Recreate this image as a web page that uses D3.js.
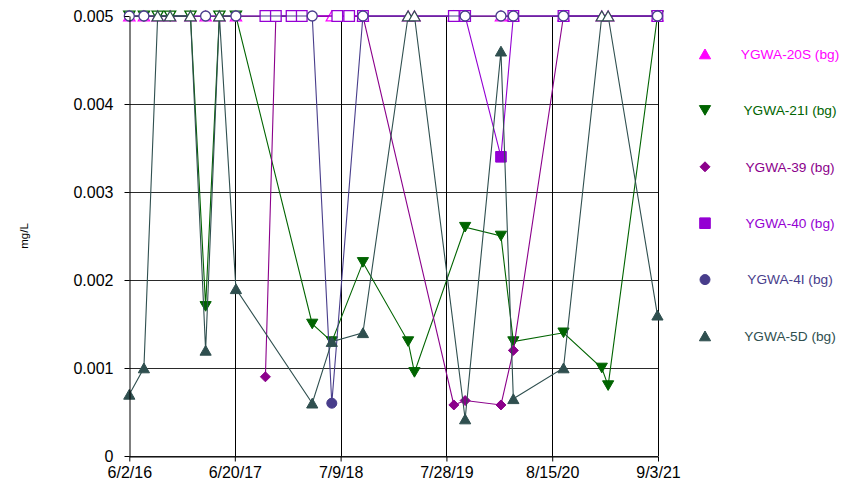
<!DOCTYPE html>
<html>
<head>
<meta charset="utf-8">
<script src="https://cdn.jsdelivr.net/npm/d3@7"></script>
<style>
  body { margin: 0; background: #fff; }
  svg text { font-family: "Liberation Sans", Arial, sans-serif; }
</style>
</head>
<body>
<div id="chart"></div>
<script>
// ---- data ----
const ND = '<0.005';   // non-detect, plotted at the reporting limit with an open marker
const _ = null;        // well not sampled on that date

const sampleDates = ['6/2/16', '7/25/16', '9/13/16', '10/28/16', '1/10/17', '3/6/17', '4/25/17',
    '6/24/17', '10/9/17', '11/16/17', '1/12/18', '2/18/18', '3/28/18', '6/7/18', '6/27/18',
    '8/9/18', '9/28/18', '3/11/19', '4/3/19', '8/24/19', '10/4/19', '2/11/20', '3/27/20',
    '9/25/20', '2/11/21', '3/6/21', '9/1/21'];

const seriesNames = ['YGWA-20S (bg)', 'YGWA-21I (bg)', 'YGWA-39 (bg)', 'YGWA-40 (bg)', 'YGWA-4I (bg)', 'YGWA-5D (bg)'];
const seriesColors = ['#FF00FF', '#006400', '#8B008B', '#9400D3', '#483D8B', '#2F4F4F'];
const seriesShapes = ['triangleUp', 'triangleDown', 'diamond', 'square', 'circle', 'triangleUp'];

const ygwa20S = [ND, ND, ND, ND, ND, ND, ND, ND, _, _, _, _, _, ND, _, _, ND, ND, ND, ND, _, ND, ND, ND, ND, ND, ND];
const ygwa21I = [ND, ND, ND, ND, ND, 0.0017, ND, ND, _, _, _, _, 0.0015, 0.0013, _, _, 0.0022, 0.0013, 0.00095, _,
    0.0026, 0.0025, 0.0013, 0.0014, 0.001, 0.0008, ND];
const ygwa39 = [_, _, _, _, _, _, _, _, 0.0009, ND, ND, ND, _, _, ND, ND, ND, _, _, 0.00058, 0.00063, 0.00058,
    0.0012, ND, _, _, ND];
const ygwa40 = [_, _, _, _, _, _, _, _, ND, ND, ND, ND, _, _, ND, ND, ND, _, _, ND, ND, 0.0034, ND, ND, _, _, ND];
const ygwa4I = [ND, ND, _, _, _, ND, _, ND, _, _, _, _, ND, 0.0006, _, _, ND, _, _, _, ND, ND, ND, ND, _, _, ND];
const ygwa5D = [0.0007, 0.001, ND, ND, ND, 0.0012, ND, 0.0019, _, _, _, _, 0.0006, 0.0013, _, _, 0.0014, ND, ND, _,
    0.00042, 0.0046, 0.00065, 0.001, ND, ND, 0.0016];

const xTickLabels = ['6/2/16', '6/20/17', '7/9/18', '7/28/19', '8/15/20', '9/3/21'];
const yTickValues = [0, 0.001, 0.002, 0.003, 0.004, 0.005];
const yLabel = 'mg/L';

/**
 * Time-series chart with open markers for non-detects
 */
class ResultChart {

    width; height; margin;
    svg; plot;
    x; y;
    series;

    constructor(container, width, height, margin) {
        this.width = width;
        this.height = height;
        this.margin = margin;

        this.svg = d3.select(container).append('svg')
            .attr('width', width)
            .attr('height', height);

        this.plot = this.svg.append('g');
    }

    #updateScales() {
        const parse = d3.timeParse('%m/%d/%y');
        this.x = d3.scaleTime()
            .domain([parse(xTickLabels[0]), parse(xTickLabels[xTickLabels.length - 1])])
            .range([this.margin.left, this.width - this.margin.right]);
        this.y = d3.scaleLinear()
            .domain([0, 0.005])
            .range([this.height - this.margin.bottom, this.margin.top]);
        this.xTicks = xTickLabels.map(parse);
    }

    #markerPath(shape) {
        switch (shape) {
            case 'triangleUp': return 'M0,-5L5.6,4.8L-5.6,4.8Z';
            case 'triangleDown': return 'M0,4.8L5.6,-4.8L-5.6,-4.8Z';
            case 'diamond': return 'M0,-5L5,0L0,5L-5,0Z';
            case 'square': return 'M-5.3,-5.3h10.6v10.6h-10.6Z';
            default: return d3.arc()({innerRadius: 0, outerRadius: 5, startAngle: 0, endAngle: 2 * Math.PI});
        }
    }

    #updateGrid() {
        const [x0, x1] = this.x.range();
        const [y0, y1] = this.y.range();

        this.plot.selectAll('line.hgrid')
            .data(yTickValues)
            .join('line')
            .classed('hgrid', true)
            .attr('x1', x0).attr('x2', x1)
            .attr('y1', d => Math.round(this.y(d)) + 0.5)
            .attr('y2', d => Math.round(this.y(d)) + 0.5)
            .attr('stroke', '#2a2a2a')
            .attr('stroke-width', 1);

        this.plot.selectAll('line.vgrid')
            .data(this.xTicks.slice(1))
            .join('line')
            .classed('vgrid', true)
            .attr('x1', d => Math.round(this.x(d)) + 0.5)
            .attr('x2', d => Math.round(this.x(d)) + 0.5)
            .attr('y1', y0).attr('y2', y1)
            .attr('stroke', '#000')
            .attr('stroke-width', 1);
    }

    #updateSeries() {
        const line = d3.line()
            .x(d => this.x(d.date))
            .y(d => this.y(d.value));

        // each series: line first, then its markers (later wells sit on top)
        this.series.forEach(s => {
            const g = this.plot.append('g').classed('series', true);

            g.append('path')
                .datum(s.points)
                .attr('d', line)
                .attr('fill', 'none')
                .attr('stroke', s.color)
                .attr('stroke-width', 1.1);

            g.selectAll('path.marker')
                .data(s.points)
                .join('path')
                .classed('marker', true)
                .attr('d', this.#markerPath(s.shape))
                .attr('transform', d => `translate(${this.x(d.date)},${this.y(d.value)})`)
                .attr('fill', d => d.nd ? '#fff' : s.color)
                .attr('stroke', s.color)
                .attr('stroke-width', d => d.nd ? 1.3 : 1);
        });
    }

    #updateAxes() {
        const fmt = d => d === 0 ? '0' : d3.format('.3f')(d);

        const yAxis = this.svg.append('g')
            .attr('transform', `translate(${Math.round(this.margin.left) + 0.5},0)`)
            .call(d3.axisLeft(this.y).tickValues(yTickValues).tickFormat(fmt).tickSize(5).tickPadding(11).tickSizeOuter(0));

        const xAxis = this.svg.append('g')
            .attr('transform', `translate(0,${Math.round(this.height - this.margin.bottom) + 0.5})`)
            .call(d3.axisBottom(this.x).tickValues(this.xTicks).tickFormat((d, i) => xTickLabels[i]).tickSize(5).tickPadding(5).tickSizeOuter(0));

        [xAxis, yAxis].forEach(a => {
            a.selectAll('path.domain').attr('stroke', '#000');
            a.selectAll('.tick line').attr('stroke', '#000');
            a.selectAll('text')
                .attr('fill', '#000')
                .style('font-size', '16px')
                .style('font-family', '"Liberation Sans", Arial, sans-serif');
        });

        this.svg.append('text')
            .attr('transform', `translate(28,${(this.y.range()[0] + this.y.range()[1]) / 2}) rotate(-90)`)
            .attr('text-anchor', 'middle')
            .style('font-size', '11.5px')
            .text(yLabel);
    }

    #updateLegend() {
        const rowY = i => 54 + i * 56.4;

        const rows = this.svg.append('g').selectAll('g.legend')
            .data(this.series)
            .join('g')
            .classed('legend', true)
            .attr('transform', (d, i) => `translate(0,${rowY(i)})`);

        rows.append('path')
            .attr('d', d => this.#markerPath(d.shape))
            .attr('transform', 'translate(705,0)')
            .attr('fill', d => d.color)
            .attr('stroke', d => d.color);

        rows.append('text')
            .attr('x', 790)
            .attr('dy', '0.35em')
            .attr('text-anchor', 'middle')
            .attr('fill', d => d.color)
            .style('font-size', '13.7px')
            .text(d => d.name);
    }

    // Public API

    render(columns) {
        const parse = d3.timeParse('%m/%d/%y');
        this.series = columns.map((values, i) => ({
            name: seriesNames[i],
            color: seriesColors[i],
            shape: seriesShapes[i],
            points: values
                .map((v, j) => v === null ? null : {
                    date: parse(sampleDates[j]),
                    value: v === ND ? 0.005 : v,
                    nd: v === ND
                })
                .filter(p => p !== null)
        }));

        this.#updateScales();
        this.#updateGrid();
        this.#updateSeries();
        this.#updateAxes();
        this.#updateLegend();
        return this;
    }
}

new ResultChart('#chart', 860, 491, {top: 16, right: 202, bottom: 35, left: 129.3})
    .render([ygwa20S, ygwa21I, ygwa39, ygwa40, ygwa4I, ygwa5D]);
</script>
</body>
</html>
